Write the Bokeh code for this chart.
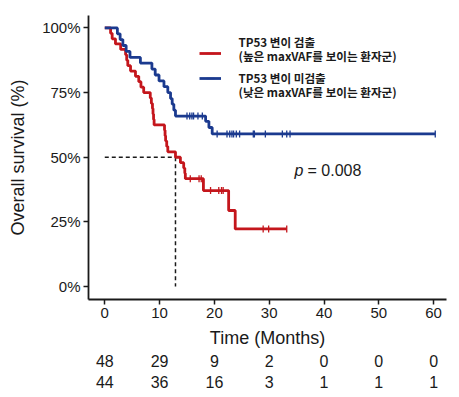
import numpy as np
from bokeh.plotting import figure
from bokeh.layouts import column
from bokeh.models import (Range1d, FixedTicker, NumeralTickFormatter, Label,
                          Legend, LegendItem)
from bokeh.core.properties import value
from bokeh.embed import file_html
from bokeh.resources import INLINE

# ---------------- data ----------------
red_times = [0, 1.06, 1.35, 1.95, 2.9, 3.8, 4.0, 4.2, 4.7, 5.6, 6.2, 6.6, 7.1,
             8.3, 8.5, 8.7, 8.8, 8.9, 9.0, 10.9, 11.0, 11.1, 11.3, 11.5, 12.9,
             13.8, 14.4, 14.6, 14.7, 18.0, 22.6, 23.8, 33.2]
red_surv = [1.0, 0.979, 0.958, 0.938, 0.917, 0.896, 0.875, 0.854, 0.833, 0.813,
            0.792, 0.771, 0.750, 0.729, 0.708, 0.688, 0.667, 0.646, 0.625, 0.604,
            0.583, 0.563, 0.542, 0.521, 0.500, 0.479, 0.458, 0.438, 0.417, 0.371,
            0.294, 0.223, 0.223]
red_censor = [15.6, 17.2, 17.6, 19.3, 20.8, 21.3, 21.6, 28.9, 29.9, 33.2]

blue_times = [0, 2.3, 2.8, 3.3, 3.9, 4.6, 6.5, 8.6, 9.2, 9.9, 10.8, 11.5, 12.0,
              12.3, 12.6, 12.9, 18.4, 19.0, 19.6, 60.3]
blue_surv = [1.0, 0.977, 0.955, 0.932, 0.909, 0.886, 0.864, 0.841, 0.818, 0.795,
             0.773, 0.750, 0.727, 0.705, 0.682, 0.659, 0.639, 0.615, 0.590, 0.590]
blue_censor = [15.0, 15.5, 15.9, 16.2, 17.0, 17.8, 20.5, 22.3, 22.8, 23.2, 23.5,
               24.0, 24.6, 27.1, 27.3, 29.3, 32.4, 33.2, 33.8, 60.3]

risk_times = [0, 10, 20, 30, 40, 50, 60]
risk_red = [48, 29, 9, 2, 0, 0, 0]
risk_blue = [44, 36, 16, 3, 1, 1, 1]

x_ticks = [0, 10, 20, 30, 40, 50, 60]
y_ticks = [0, 0.25, 0.5, 0.75, 1.0]

x_title = "Time (Months)"
y_title = "Overall survival (%)"
red_label = ["TP53 변이 검출", "(높은 maxVAF를 보이는 환자군)"]
blue_label = ["TP53 변이 미검출", "(낮은 maxVAF를 보이는 환자군)"]
p_text = "= 0.008"

RED = "#C4161C"
BLUE = "#1B3A8F"
INK = "#1a1a1a"
FONT = "Liberation Sans"
KFONT = "Noto Sans CJK KR"


def surv_at(times, surv, pts):
    idx = np.searchsorted(np.array(times), np.array(pts), side="right") - 1
    return [surv[i] for i in idx]


xr = Range1d(-2.97, 62.35)
p = figure(width=451, height=327, x_range=xr,
           y_range=Range1d(-0.05, 1.048), output_backend="svg",
           toolbar_location=None, min_border_left=88, min_border_right=5,
           min_border_top=15, min_border_bottom=28)
p.outline_line_color = None
p.grid.visible = False

# median dashed lines
med_idx = next(i for i, s in enumerate(red_surv) if s <= 0.5)
med_t = red_times[med_idx]
p.line([0, med_t], [0.5, 0.5], line_color=INK, line_width=1.5, line_dash="4 3")
p.line([med_t, med_t], [0.5, 0], line_color=INK, line_width=1.5, line_dash="4 3")

r_line = p.step(red_times, red_surv, mode="after", line_color=RED, line_width=2.8)
b_line = p.step(blue_times, blue_surv, mode="after", line_color=BLUE, line_width=2.8)
r_c = p.scatter(red_censor, surv_at(red_times, red_surv, red_censor), marker="dash",
                angle=np.pi / 2, size=7, line_color=RED, line_width=1.3)
b_c = p.scatter(blue_censor, surv_at(blue_times, blue_surv, blue_censor), marker="dash",
                angle=np.pi / 2, size=7, line_color=BLUE, line_width=1.3)

# axes
for ax in (p.xaxis[0], p.yaxis[0]):
    ax.axis_line_width = 1.8
    ax.axis_line_color = INK
    ax.major_tick_line_color = INK
    ax.major_tick_line_width = 1.5
    ax.major_tick_out = 5
    ax.major_tick_in = 0
    ax.minor_tick_line_color = None
    ax.major_label_text_font = FONT
    ax.major_label_text_font_size = "15px"
    ax.major_label_text_color = INK
    ax.axis_label_text_font = FONT
    ax.axis_label_text_font_size = "18px"
    ax.axis_label_text_font_style = "normal"
    ax.axis_label_text_color = INK

p.xaxis.ticker = FixedTicker(ticks=x_ticks)
p.yaxis.ticker = FixedTicker(ticks=y_ticks)
p.yaxis.formatter = NumeralTickFormatter(format="0%")
p.yaxis.axis_label = y_title
p.xaxis.major_label_standoff = 3
p.yaxis.major_label_standoff = 3
p.yaxis.axis_label_standoff = 11

# legend samples
legend = Legend(items=[LegendItem(label=" ", renderers=[r_line, r_c]),
                       LegendItem(label=" ", renderers=[b_line, b_c])],
                location=(111, 211), padding=0, margin=0, spacing=5,
                glyph_width=22, glyph_height=20, label_height=20, label_width=1,
                label_standoff=0, border_line_color=None,
                background_fill_alpha=0)
p.add_layout(legend, "center")

for txt, yy in zip(red_label + blue_label, [0.946, 0.891, 0.807, 0.753]):
    p.add_layout(Label(x=24.4, y=yy, text=txt, text_font=KFONT,
                       text_font_size="11.6px", text_font_style="bold",
                       text_color=INK, text_baseline="middle", text_align="left"))

# p-value
p.add_layout(Label(x=34.6, y=0.448, text="p", text_font=FONT,
                   text_font_style="italic", text_font_size="16px",
                   text_color=INK, text_baseline="middle"))
p.add_layout(Label(x=37.0, y=0.448, text=p_text, text_font=FONT,
                   text_font_size="16px", text_color=INK, text_baseline="middle"))

# x title + risk table (strip below, sharing the x range)
q = figure(width=451, height=70, x_range=xr, y_range=Range1d(-0.705, 2.521),
           output_backend="svg", toolbar_location=None, x_axis_type=None,
           y_axis_type=None, min_border_left=88, min_border_right=5,
           min_border_top=0, min_border_bottom=0)
q.outline_line_color = None
q.grid.visible = False
q.text(x=[(xr.start + xr.end) / 2], y=[2.03], text=[x_title],
       text_font=value(FONT), text_font_size="18px", text_color=INK,
       text_align="center", text_baseline="middle")
q.text(x=risk_times, y=[1] * len(risk_times), text=[str(v) for v in risk_red],
       text_font=value(FONT), text_font_size="16px", text_color=INK,
       text_align="center", text_baseline="middle")
q.text(x=risk_times, y=[0] * len(risk_times), text=[str(v) for v in risk_blue],
       text_font=value(FONT), text_font_size="16px", text_color=INK,
       text_align="center", text_baseline="middle")

layout = column(p, q, spacing=0)
open("out.html", "w").write(file_html(layout, INLINE))
